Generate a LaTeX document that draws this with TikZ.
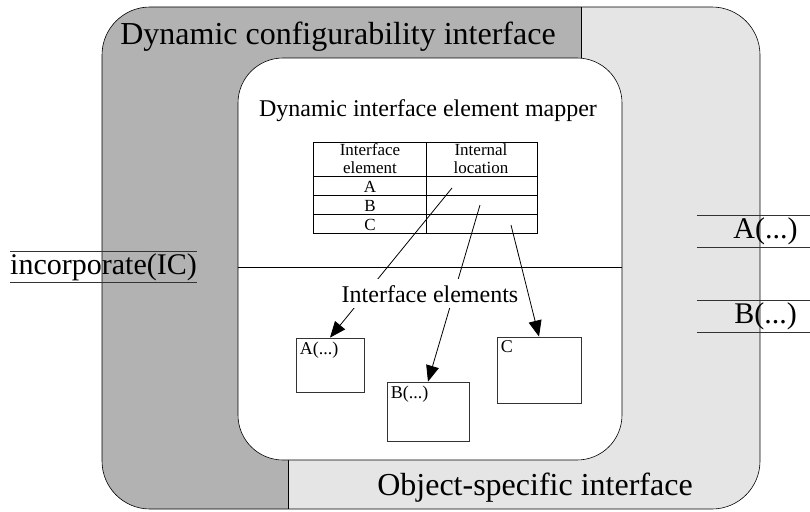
\documentclass[tikz,border=0pt]{standalone}
\usepackage{fontspec}
\setmainfont{Liberation Serif}
\usetikzlibrary{positioning,arrows.meta,calc}
\tikzset{
  big/.style={font=\fontsize{30}{32}\selectfont},
  huge/.style={font=\fontsize{32}{34}\selectfont},
  mid/.style={font=\fontsize{24}{26}\selectfont},
  cell/.style={font=\fontsize{17}{18}\selectfont, align=center, inner sep=0pt},
  tag/.style={font=\fontsize{18}{20}\selectfont, anchor=north west, inner sep=4pt},
  elem/.style={rectangle, draw=black!80, thick, fill=white},
  connect/.style={-{Triangle[length=16pt,width=13pt]}, thick},
  port/.style={big, inner sep=0pt, minimum height=31pt,
    append after command={(\tikzlastnode.north west) edge[thick, draw=black!80] (\tikzlastnode.north east)
                          (\tikzlastnode.south west) edge[thick, draw=black!80] (\tikzlastnode.south east)}}
}
\begin{document}
\begin{tikzpicture}[x=1pt,y=-1pt]
  \useasboundingbox (0,0) rectangle (810,511);

  % the two outer areas
  \begin{scope}
    \clip[rounded corners=48] (102,7) rectangle (760,509);
    \fill[black!10] (102,7) rectangle (760,509);
    \fill[black!30] (102,7) -| (581,260) -| (288,509) -| cycle;
  \end{scope}
  \draw[thick] (581,7) -- (581,80);
  \draw[thick] (288,430) -- (288,509);
  \draw[semithick, rounded corners=48] (102,7) rectangle (760,509);

  % mapper
  \draw[semithick, fill=white, rounded corners=45] (238,58) rectangle (622,460);
  \draw[semithick] (238,267) -- (622,267);

  \node[huge, anchor=base] (Dyn) at (338,45) {Dynamic configurability interface};
  \node[huge, anchor=base] (Obj) at (535,495) {Object-specific interface};
  \node[mid, anchor=base] (Mapper) at (428,116) {Dynamic interface element mapper};

  % table
  \draw[thick] (313,142) rectangle (537,233);
  \draw[thick] (313,176) -- (537,176)
               (313,195) -- (537,195)
               (313,214) -- (537,214)
               (426,142) -- (426,233);
  \node[cell] (hElem) at (370,159) {Interface\\element};
  \node[cell] (hLoc) at (481,159) {Internal\\location};
  \node[cell] (rowA) at (370,187) {A};
  \node[cell] (rowB) at (370,206) {B};
  \node[cell] (rowC) at (370,225) {C};
  \coordinate (locA) at (452,188);
  \coordinate (locB) at (480,205);
  \coordinate (locC) at (511,225);

  % elements
  \node[elem, minimum width=68, minimum height=54] (boxA) at (330,365) {};
  \node[elem, minimum width=82, minimum height=59] (boxB) at (428,411.5) {};
  \node[elem, minimum width=84, minimum height=66] (boxC) at (539,370) {};
  \node[tag] (tagA) at (boxA.north west) {A(...)};
  \node[tag] (tagB) at (boxB.north west) {B(...)};
  \node[tag] (tagC) at (boxC.north west) {C};

  \path (locA) edge [connect] (boxA.north)
        (locB) edge [connect] (boxB.north)
        (locC) edge [connect] (boxC.north);

  \node[mid, anchor=base, fill=white, inner xsep=2pt, inner ysep=6pt] (Elems) at (430,302) {Interface elements};

  % ports
  \node[port, minimum width=183] (incIC) at (103.5,267) {incorporate(IC)};
  \node[port, minimum width=113] (portA) at (753.5,231.5) {\hspace*{24pt}A(...)};
  \node[port, minimum width=113] (portB) at (753.5,316.5) {\hspace*{24pt}B(...)};
\end{tikzpicture}
\end{document}
